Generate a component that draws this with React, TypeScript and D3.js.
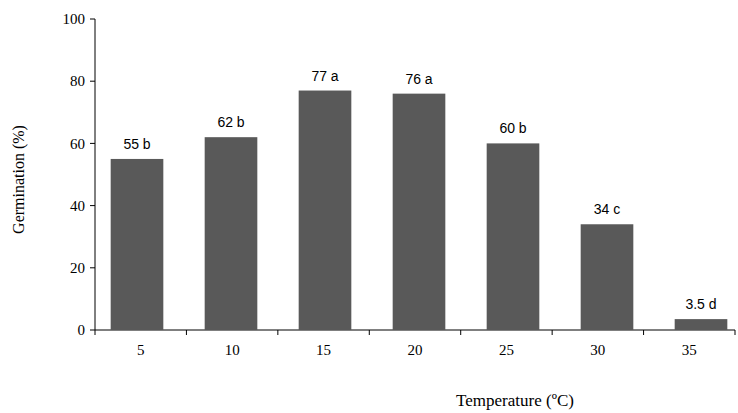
import React from "react";
import * as d3 from "d3";

const categories = ["5", "10", "15", "20", "25", "30", "35"];
const values = [55, 62, 77, 76, 60, 34, 3.5];
const labels = ["55 b", "62 b", "77 a", "76 a", "60 b", "34 c", "3.5 d"];
const yTicks = [0, 20, 40, 60, 80, 100];

export default function App() {
  const W = 738, H = 413;
  const left = 95, right = 735, top = 19, bottom = 330;
  const x = d3.scaleBand().domain(categories).range([90, 748]).paddingInner(0.44).paddingOuter(0.22);
  const y = d3.scaleLinear().domain([0, 100]).range([bottom, top]);
  const serif = "'Liberation Serif', 'Times New Roman', serif";
  const sans = "'Liberation Sans', Arial, sans-serif";
  const step = (right - left) / categories.length;
  return (
    <svg width={W} height={H} style={{ position: "absolute", left: 0, top: 0, background: "#fff" }}>
      <line x1={left} x2={left} y1={top} y2={bottom} stroke="#000" />
      <line x1={left} x2={right} y1={bottom} y2={bottom} stroke="#000" />
      {yTicks.map(t => (
        <g key={t}>
          <line x1={left - 5} x2={left} y1={y(t)} y2={y(t)} stroke="#000" />
          <text x={left - 10} y={y(t)} dy="0.35em" textAnchor="end" fontFamily={serif} fontSize={15}>{t}</text>
        </g>
      ))}
      {categories.map((c, i) => (
        <line key={"t" + i} x1={left + i * step} x2={left + i * step} y1={bottom} y2={bottom + 5} stroke="#000" />
      ))}
      <line x1={right} x2={right} y1={bottom} y2={bottom + 5} stroke="#000" />
      {categories.map((c, i) => (
        <g key={c}>
          <rect x={x(c)} y={y(values[i])} width={x.bandwidth()} height={bottom - y(values[i])} fill="#595959" />
          <text x={x(c)! + x.bandwidth() / 2} y={y(values[i]) - 10} textAnchor="middle" fontFamily={sans} fontSize={14}>{labels[i]}</text>
          <text x={left + (i + 0.5) * step} y={bottom + 25} textAnchor="middle" fontFamily={serif} fontSize={15}>{c}</text>
        </g>
      ))}
      <text transform={`translate(24,${(top + bottom) / 2 + 5}) rotate(-90)`} textAnchor="middle" fontFamily={serif} fontSize={16}>Germination (%)</text>
      <text x={515} y={406} textAnchor="middle" fontFamily={serif} fontSize={17}>Temperature (ºC)</text>
    </svg>
  );
}
